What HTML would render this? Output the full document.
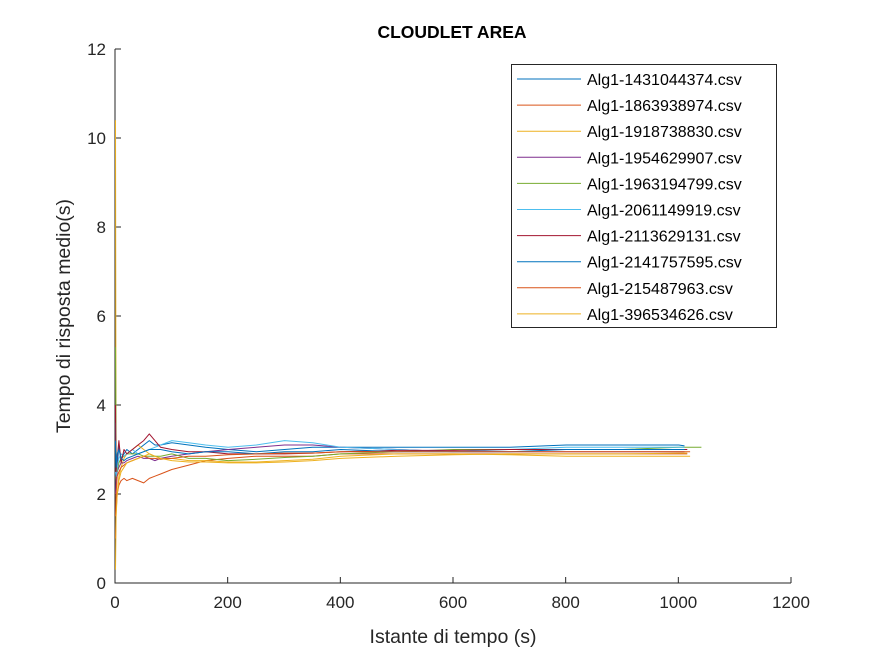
<!DOCTYPE html>
<html><head><meta charset="utf-8"><style>
body{margin:0;background:#fff}
svg{font-family:"Liberation Sans",Arial,sans-serif}
</style></head><body>
<svg id="c" width="875" height="656" viewBox="0 0 875 656">
<rect width="875" height="656" fill="#fff"/>
<text x="452" y="38" text-anchor="middle" font-size="17.5" font-weight="bold" fill="#000">CLOUDLET AREA</text>
<g id="axes"></g>
<g id="plot"></g>
<text x="453" y="643" text-anchor="middle" font-size="19.5" fill="#262626">Istante di tempo (s)</text>
<text transform="translate(70,316) rotate(-90)" text-anchor="middle" font-size="19.5" fill="#262626">Tempo di risposta medio(s)</text>
<g id="legend"></g>
</svg>
<script>
const xTicks=[0,200,400,600,800,1000,1200];
const yTicks=[0,2,4,6,8,10,12];
const names=["Alg1-1431044374.csv","Alg1-1863938974.csv","Alg1-1918738830.csv","Alg1-1954629907.csv","Alg1-1963194799.csv","Alg1-2061149919.csv","Alg1-2113629131.csv","Alg1-2141757595.csv","Alg1-215487963.csv","Alg1-396534626.csv"];
const colors=["#0072BD","#D95319","#EDB120","#7E2F8E","#77AC30","#4DBEEE","#A2142F","#0072BD","#D95319","#EDB120"];
const times=[0,1,3,6,10,15,20,30,40,50,60,70,80,100,130,160,200,250,300,350,400,500,600,700,800,900,1000];
const endTimes=[1010,1015,1020,1010,1040,1010,1015,1010,1020,1015];
const s1=[3.6,2.3,2.6,3.1,2.8,2.9,3.0,2.9,3.0,3.1,3.2,3.1,3.1,3.15,3.1,3.05,3.0,2.95,3.0,3.05,3.05,3.05,3.05,3.05,3.1,3.1,3.1,3.08];
const s2=[1.0,1.6,2.0,2.2,2.3,2.35,2.3,2.35,2.3,2.25,2.35,2.4,2.45,2.55,2.65,2.75,2.8,2.85,2.85,2.85,2.9,2.9,2.9,2.9,2.9,2.9,2.9,2.9];
const s3=[10.4,2.0,2.0,2.4,2.6,2.8,2.9,3.0,3.1,3.0,2.9,2.85,2.8,2.8,2.75,2.75,2.72,2.72,2.75,2.78,2.85,2.9,2.9,2.88,2.85,2.85,2.85,2.85];
const s4=[2.0,2.3,2.5,2.6,2.7,2.7,2.75,2.8,2.85,2.8,2.8,2.75,2.8,2.85,2.9,2.95,3.0,3.05,3.1,3.1,3.05,3.0,2.95,2.95,2.95,2.95,2.95,2.95];
const s5=[5.3,3.0,2.5,2.7,2.8,2.85,2.9,2.9,2.9,2.85,2.85,2.85,2.85,2.9,2.8,2.8,2.75,2.78,2.82,2.85,2.9,2.95,3.0,3.0,3.0,3.0,3.05,3.05];
const s6=[2.5,2.4,2.6,2.8,2.9,2.85,2.9,3.0,2.9,2.95,3.0,3.05,3.1,3.2,3.15,3.1,3.05,3.1,3.2,3.15,3.05,3.0,2.95,3.0,3.05,3.05,3.05,3.05];
const s7=[4.0,2.5,2.8,3.2,2.7,3.0,2.9,3.0,3.1,3.2,3.35,3.2,3.05,3.0,2.95,2.95,2.9,2.9,2.9,2.92,2.95,2.98,2.98,3.0,3.0,3.0,3.0,3.0];
const s8=[3.2,2.6,2.9,3.0,2.8,2.75,2.8,2.85,2.9,2.95,3.0,3.0,3.0,2.95,2.9,2.95,2.95,2.9,2.95,2.95,3.0,2.95,2.95,2.95,3.0,3.0,3.0,3.0];
const s9=[1.5,2.0,2.4,2.5,2.6,2.65,2.7,2.75,2.8,2.85,2.8,2.8,2.78,2.8,2.85,2.85,2.88,2.9,2.92,2.92,2.95,2.95,2.95,2.95,2.95,2.95,2.95,2.95];
const s10=[0.3,1.5,2.0,2.3,2.5,2.6,2.7,2.75,2.8,2.85,2.9,2.85,2.8,2.75,2.72,2.72,2.7,2.7,2.72,2.75,2.8,2.85,2.88,2.9,2.9,2.9,2.92,2.92];
const series=[s1,s2,s3,s4,s5,s6,s7,s8,s9,s10];

const NS="http://www.w3.org/2000/svg";
const X0=115,X1=791,Y0=583,Y1=49;
const xs=v=>X0+(v/1200)*(X1-X0);
const ys=v=>Y0-(v/12)*(Y0-Y1);
function mk(tag,attrs,parent){const e=document.createElementNS(NS,tag);for(const k in attrs)e.setAttribute(k,attrs[k]);parent.appendChild(e);return e;}
const plot=document.getElementById('plot'),axes=document.getElementById('axes'),leg=document.getElementById('legend');
series.forEach((s,i)=>{
  const ts=times.concat([endTimes[i]]);
  const d=s.map((v,j)=>(j?'L':'M')+(xs(ts[j])+0.5).toFixed(1)+','+ys(v).toFixed(1)).join('');
  const p=mk('path',{d:d,fill:'none',stroke:colors[i],'stroke-width':1,'stroke-linejoin':'round'},plot);
  
  
});
const ax=mk('path',{d:`M${X0},${Y1}V${Y0}H${X1}`,fill:'none',stroke:'#262626','stroke-width':1},axes);


xTicks.forEach(t=>{
  const x=xs(t);
  mk('line',{x1:x,x2:x,y1:Y0,y2:Y0-6,stroke:'#262626'},axes);
  const tx=mk('text',{x:x,y:Y0+25,'text-anchor':'middle','font-size':17,fill:'#262626'},axes);
  tx.textContent=t;
  
  
});
yTicks.forEach(t=>{
  const y=ys(t);
  mk('line',{x1:X0,x2:X0+6,y1:y,y2:y,stroke:'#262626'},axes);
  const tx=mk('text',{x:X0-9,y:y+6,'text-anchor':'end','font-size':17,fill:'#262626'},axes);
  tx.textContent=t;
  
  
});
const lb=mk('rect',{x:511.5,y:64.5,width:265,height:263,fill:'#fff',stroke:'#262626','stroke-width':1},leg);


names.forEach((n,i)=>{
  const y=79+i*26.1;
  const g=mk('g',{},leg);
  
  
  mk('line',{x1:517,x2:581,y1:y,y2:y,stroke:colors[i],'stroke-width':1},g);
  const t=mk('text',{x:587,y:y+6,'font-size':16,fill:'#000'},g);
  t.textContent=n;
});
</script>
</body></html>
